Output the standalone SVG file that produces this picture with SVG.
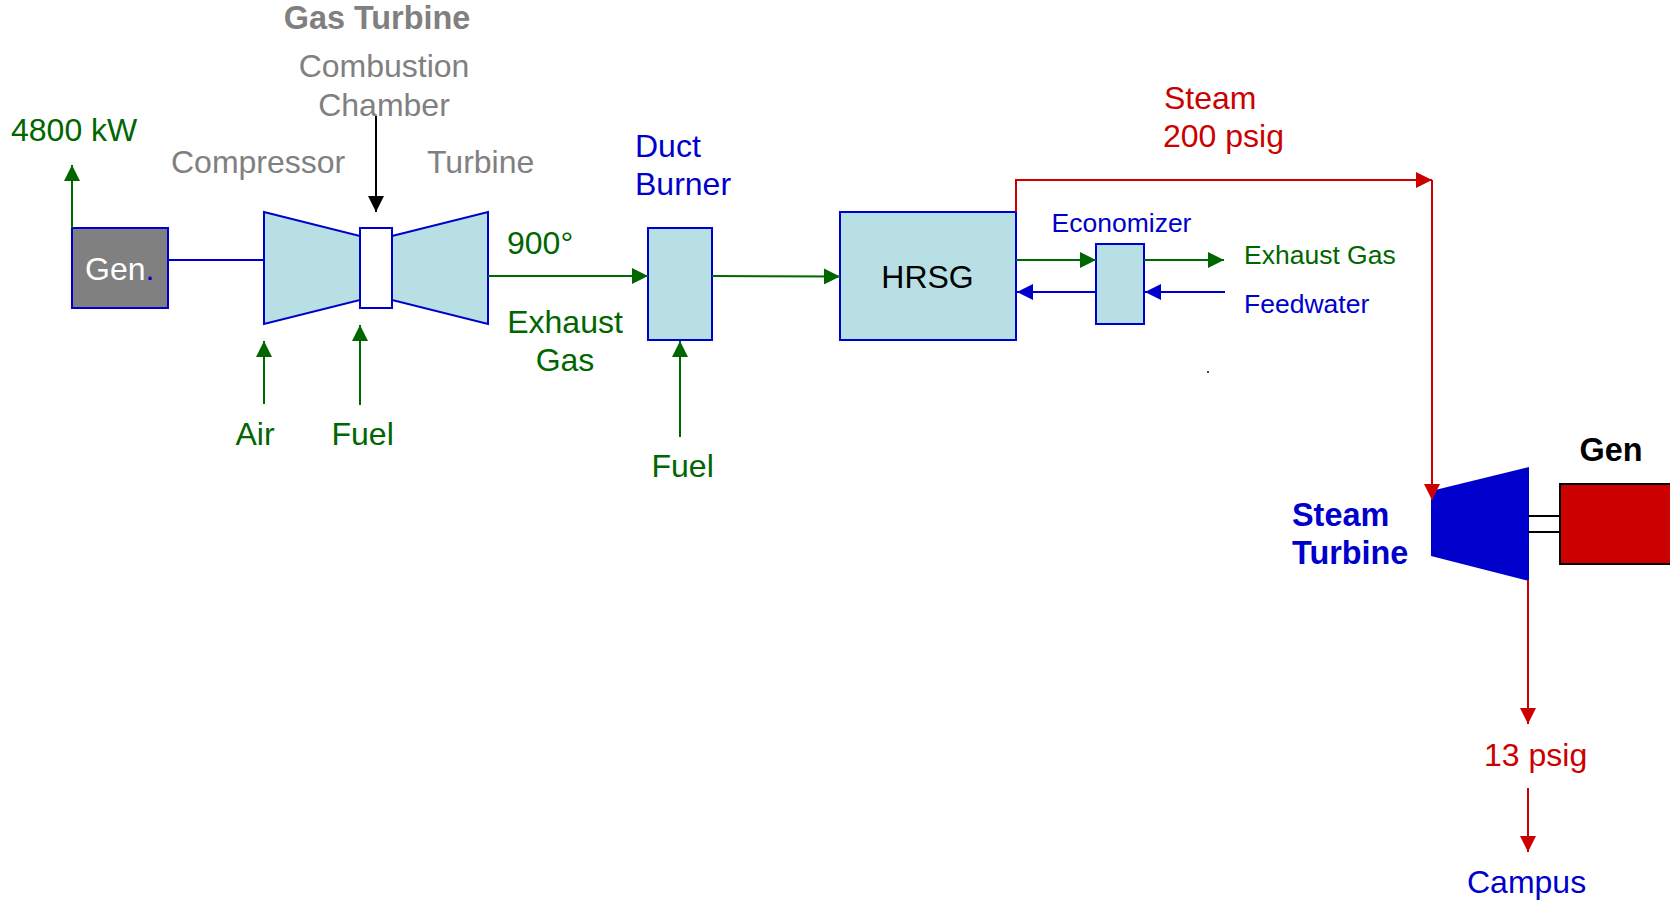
<svg xmlns="http://www.w3.org/2000/svg" width="1670" height="906" viewBox="0 0 1670 906">
<style>
text{font-family:"Liberation Sans",Arial,sans-serif;font-size:32px}
.s{font-size:26.500px}.b{font-weight:bold;font-size:32.400px}
.gy{fill:#808080}.gn{fill:#006600}.bl{fill:#0000cc}.rd{fill:#cc0000}.k{fill:#000}
.box{fill:#b8dfe3;stroke:#0000cc;stroke-width:2}
.lg{stroke:#006600;stroke-width:2;fill:none}.lb{stroke:#0000cc;stroke-width:2;fill:none}.lr{stroke:#cc0000;stroke-width:2;fill:none}.lk{stroke:#000;stroke-width:2;fill:none}
</style>
<defs>
<marker id="ag" markerUnits="userSpaceOnUse" markerWidth="16" markerHeight="16" refX="16" refY="8" orient="auto"><path d="M0 0L16 8L0 16Z" fill="#006600"/></marker>
<marker id="ab" markerUnits="userSpaceOnUse" markerWidth="16" markerHeight="16" refX="16" refY="8" orient="auto"><path d="M0 0L16 8L0 16Z" fill="#0000cc"/></marker>
<marker id="ar" markerUnits="userSpaceOnUse" markerWidth="16" markerHeight="16" refX="16" refY="8" orient="auto"><path d="M0 0L16 8L0 16Z" fill="#cc0000"/></marker>
<marker id="ak" markerUnits="userSpaceOnUse" markerWidth="16" markerHeight="16" refX="16" refY="8" orient="auto"><path d="M0 0L16 8L0 16Z" fill="#000"/></marker>
</defs>
<g id="gen1"><rect x="72" y="228" width="96" height="80" fill="#808080" stroke="#0000cc" stroke-width="2"/><text x="85" y="280" fill="#fff">Gen<tspan class="bl">.</tspan></text></g>
<g id="compressor"><path class="box" d="M264 212L360 236V300L264 324Z"/><text class="gy" x="171" y="173">Compressor</text></g>
<g id="turbine"><path class="box" d="M392 236L488 212V324L392 300Z"/><text class="gy" x="427" y="173">Turbine</text></g>
<g id="chamber"><rect x="360" y="228" width="32" height="80" fill="#fff" stroke="#0000cc" stroke-width="2"/><text class="gy" x="384" y="77" text-anchor="middle">Combustion</text><text class="gy" x="384" y="115.500" text-anchor="middle">Chamber</text></g>
<text id="gas-turbine" class="gy b" x="377" y="29" text-anchor="middle">Gas Turbine</text>
<g id="duct"><rect class="box" x="648" y="228" width="64" height="112"/><text class="bl" x="635" y="157">Duct</text><text class="bl" x="635" y="195">Burner</text></g>
<g id="hrsg"><rect class="box" x="840" y="212" width="176" height="128"/><text class="k" x="927.500" y="288" text-anchor="middle">HRSG</text></g>
<g id="economizer"><rect class="box" x="1096" y="244" width="48" height="80"/><text class="s bl" x="1121.500" y="232" text-anchor="middle">Economizer</text></g>
<g id="steam-turbine"><path d="M1431 491L1529 467V581L1431 556Z" fill="#0000cc"/><text class="b bl" x="1292" y="525.500">Steam</text><text class="b bl" x="1292" y="563.500">Turbine</text></g>
<g id="gen2"><rect x="1560" y="484" width="120" height="80" fill="#cc0000" stroke="#000" stroke-width="2"/><text class="b k" x="1579.500" y="461">Gen</text></g>
<g id="connectors">
<path class="lg" d="M72 228V165" marker-end="url(#ag)"/>
<path class="lb" d="M168 260H264"/>
<path class="lk" d="M376 116V212" marker-end="url(#ak)"/>
<path class="lg" d="M264 404V341" marker-end="url(#ag)"/>
<path class="lg" d="M360 405V325" marker-end="url(#ag)"/>
<path class="lg" d="M488 276H648" marker-end="url(#ag)"/>
<path class="lg" d="M712 276L840 276.500" marker-end="url(#ag)"/>
<path class="lg" d="M680 437V341" marker-end="url(#ag)"/>
<path class="lg" d="M1016 260H1096" marker-end="url(#ag)"/>
<path class="lg" d="M1144 260H1224" marker-end="url(#ag)"/>
<path class="lb" d="M1096 292H1017" marker-end="url(#ab)"/>
<path class="lb" d="M1225 292H1145" marker-end="url(#ab)"/>
<path class="lr" d="M1016 212V180H1432" marker-end="url(#ar)"/>
<path class="lr" d="M1432 180V500" marker-end="url(#ar)"/>
<path class="lr" d="M1528 580V724" marker-end="url(#ar)"/>
<path class="lr" d="M1528 788V852" marker-end="url(#ar)"/>
<path class="lk" d="M1528 516H1560M1528 532H1560"/>
</g>
<g id="labels">
<text class="gn" x="11" y="141">4800 kW</text>
<text class="gn" x="507" y="253.500">900°</text>
<text class="gn" x="565" y="333" text-anchor="middle">Exhaust</text>
<text class="gn" x="565" y="371" text-anchor="middle">Gas</text>
<text class="gn" x="235.500" y="445">Air</text>
<text class="gn" x="331.500" y="445">Fuel</text>
<text class="gn" x="651.500" y="477">Fuel</text>
<text class="rd" x="1164" y="109">Steam</text>
<text class="rd" x="1163" y="147">200 psig</text>
<text class="s gn" x="1244" y="264">Exhaust Gas</text>
<text class="s bl" x="1244" y="312.500">Feedwater</text>
<text class="rd" x="1484" y="765.500">13 psig</text>
<text class="bl" x="1467" y="893">Campus</text>
<circle cx="1208" cy="372" r="1" fill="#000"/>
</g>
</svg>
